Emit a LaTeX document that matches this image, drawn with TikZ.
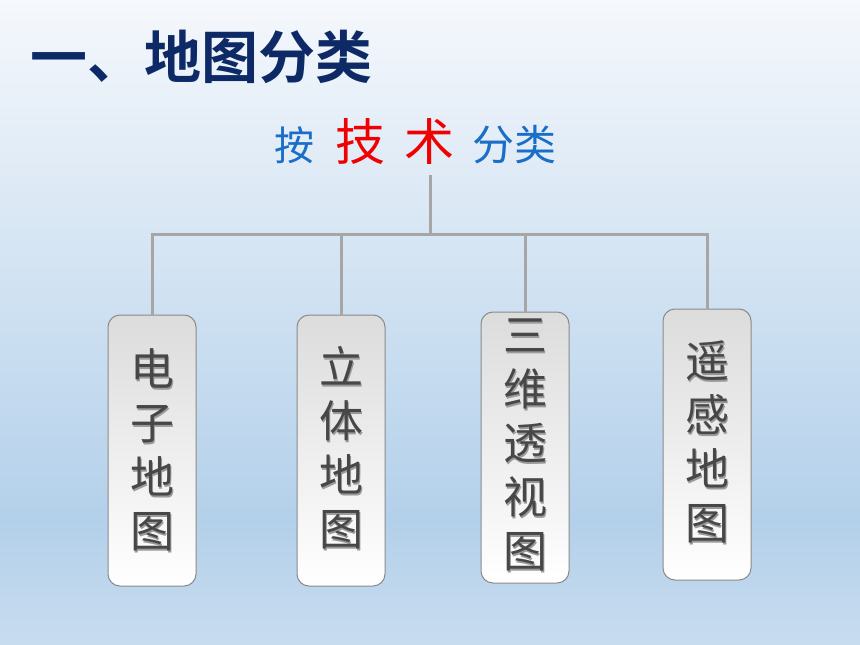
\documentclass[tikz,border=0pt]{standalone}
\usepackage{fontspec}
\newfontfamily\cjk{Noto Sans CJK SC}
\newfontfamily\cjkbold{Noto Sans CJK SC Bold}
\definecolor{bgtop}{HTML}{F5F8FC}
\definecolor{bgmid}{HTML}{B3D0EA}
\definecolor{bgbot}{HTML}{C8DCEF}
\definecolor{navy}{HTML}{0E2A66}
\definecolor{subblue}{HTML}{1A6EC8}
\definecolor{subred}{HTML}{F00000}
\definecolor{connc}{HTML}{A6A6A6}
\definecolor{boxline}{HTML}{8A8A8A}
\definecolor{boxtop}{HTML}{DCDCDC}
\definecolor{boxtext}{HTML}{474747}
\definecolor{boxshadow}{HTML}{9A9A9A}
\tikzset{
  catbox/.style={rounded corners=12pt, draw=boxline, line width=1pt,
    top color=boxtop, bottom color=white, minimum width=88pt, inner sep=0pt},
  conn/.style={draw=connc, line width=3pt},
  boxlabel/.style={font=\cjk\fontsize{44}{54}\selectfont, align=center, inner sep=0pt, text=boxtext},
  boxlabelshadow/.style={font=\cjk\fontsize{44}{54}\selectfont, align=center, inner sep=0pt, text=boxshadow},
}
\begin{document}
\begin{tikzpicture}[x=1pt,y=-1pt]
\useasboundingbox (0,0) rectangle (860,645);
\shade[top color=bgtop, bottom color=bgmid] (0,0) rectangle (860,521);
\shade[top color=bgmid, bottom color=bgbot] (0,520) rectangle (860,645);

% title
\node[anchor=west, inner sep=0pt, text=navy, font=\cjkbold\fontsize{57}{57}\selectfont] (title) at (30,57) {一、地图分类};

% subtitle
\node[inner sep=0pt, text=subblue, font=\cjk\fontsize{40}{40}\selectfont] (an) at (294,145) {按};
\node[inner sep=0pt, text=subred, font=\cjk\fontsize{50}{50}\selectfont] (ji) at (360,142) {技};
\node[inner sep=0pt, text=subred, font=\cjk\fontsize{50}{50}\selectfont] (shu) at (429,142) {术};
\node[inner sep=0pt, text=subblue, font=\cjk\fontsize{42}{42}\selectfont] (fenlei) at (514,145) {分类};

% boxes
\node[catbox, minimum height=271pt] (b1) at (152,450.5) {};
\node[catbox, minimum height=271pt] (b2) at (341,450.5) {};
\node[catbox, minimum height=271pt] (b3) at (525,447.5) {};
\node[catbox, minimum height=271pt] (b4) at (707,444.5) {};

% box labels
\node[boxlabelshadow] at (153.5,451.5) {电\\子\\地\\图};
\node[boxlabel] (t1) at (152,450) {电\\子\\地\\图};
\node[boxlabelshadow] at (342.5,449.5) {立\\体\\地\\图};
\node[boxlabel] (t2) at (341,448) {立\\体\\地\\图};
\node[boxlabelshadow] at (526.5,446.5) {三\\维\\透\\视\\图};
\node[boxlabel] (t3) at (525,445) {三\\维\\透\\视\\图};
\node[boxlabelshadow] at (708.5,443.5) {遥\\感\\地\\图};
\node[boxlabel] (t4) at (707,442) {遥\\感\\地\\图};

% connectors
\coordinate (stem) at (430,175);
\coordinate (hub) at (430,234);
\draw[conn] (stem) -- (hub);
\draw[conn, line join=miter] (b1.north) -- (b1.north |- hub) -- (b4.north |- hub) -- (b4.north);
\draw[conn] (b2.north) -- (b2.north |- hub);
\draw[conn] (b3.north) -- (b3.north |- hub);
\end{tikzpicture}
\end{document}
